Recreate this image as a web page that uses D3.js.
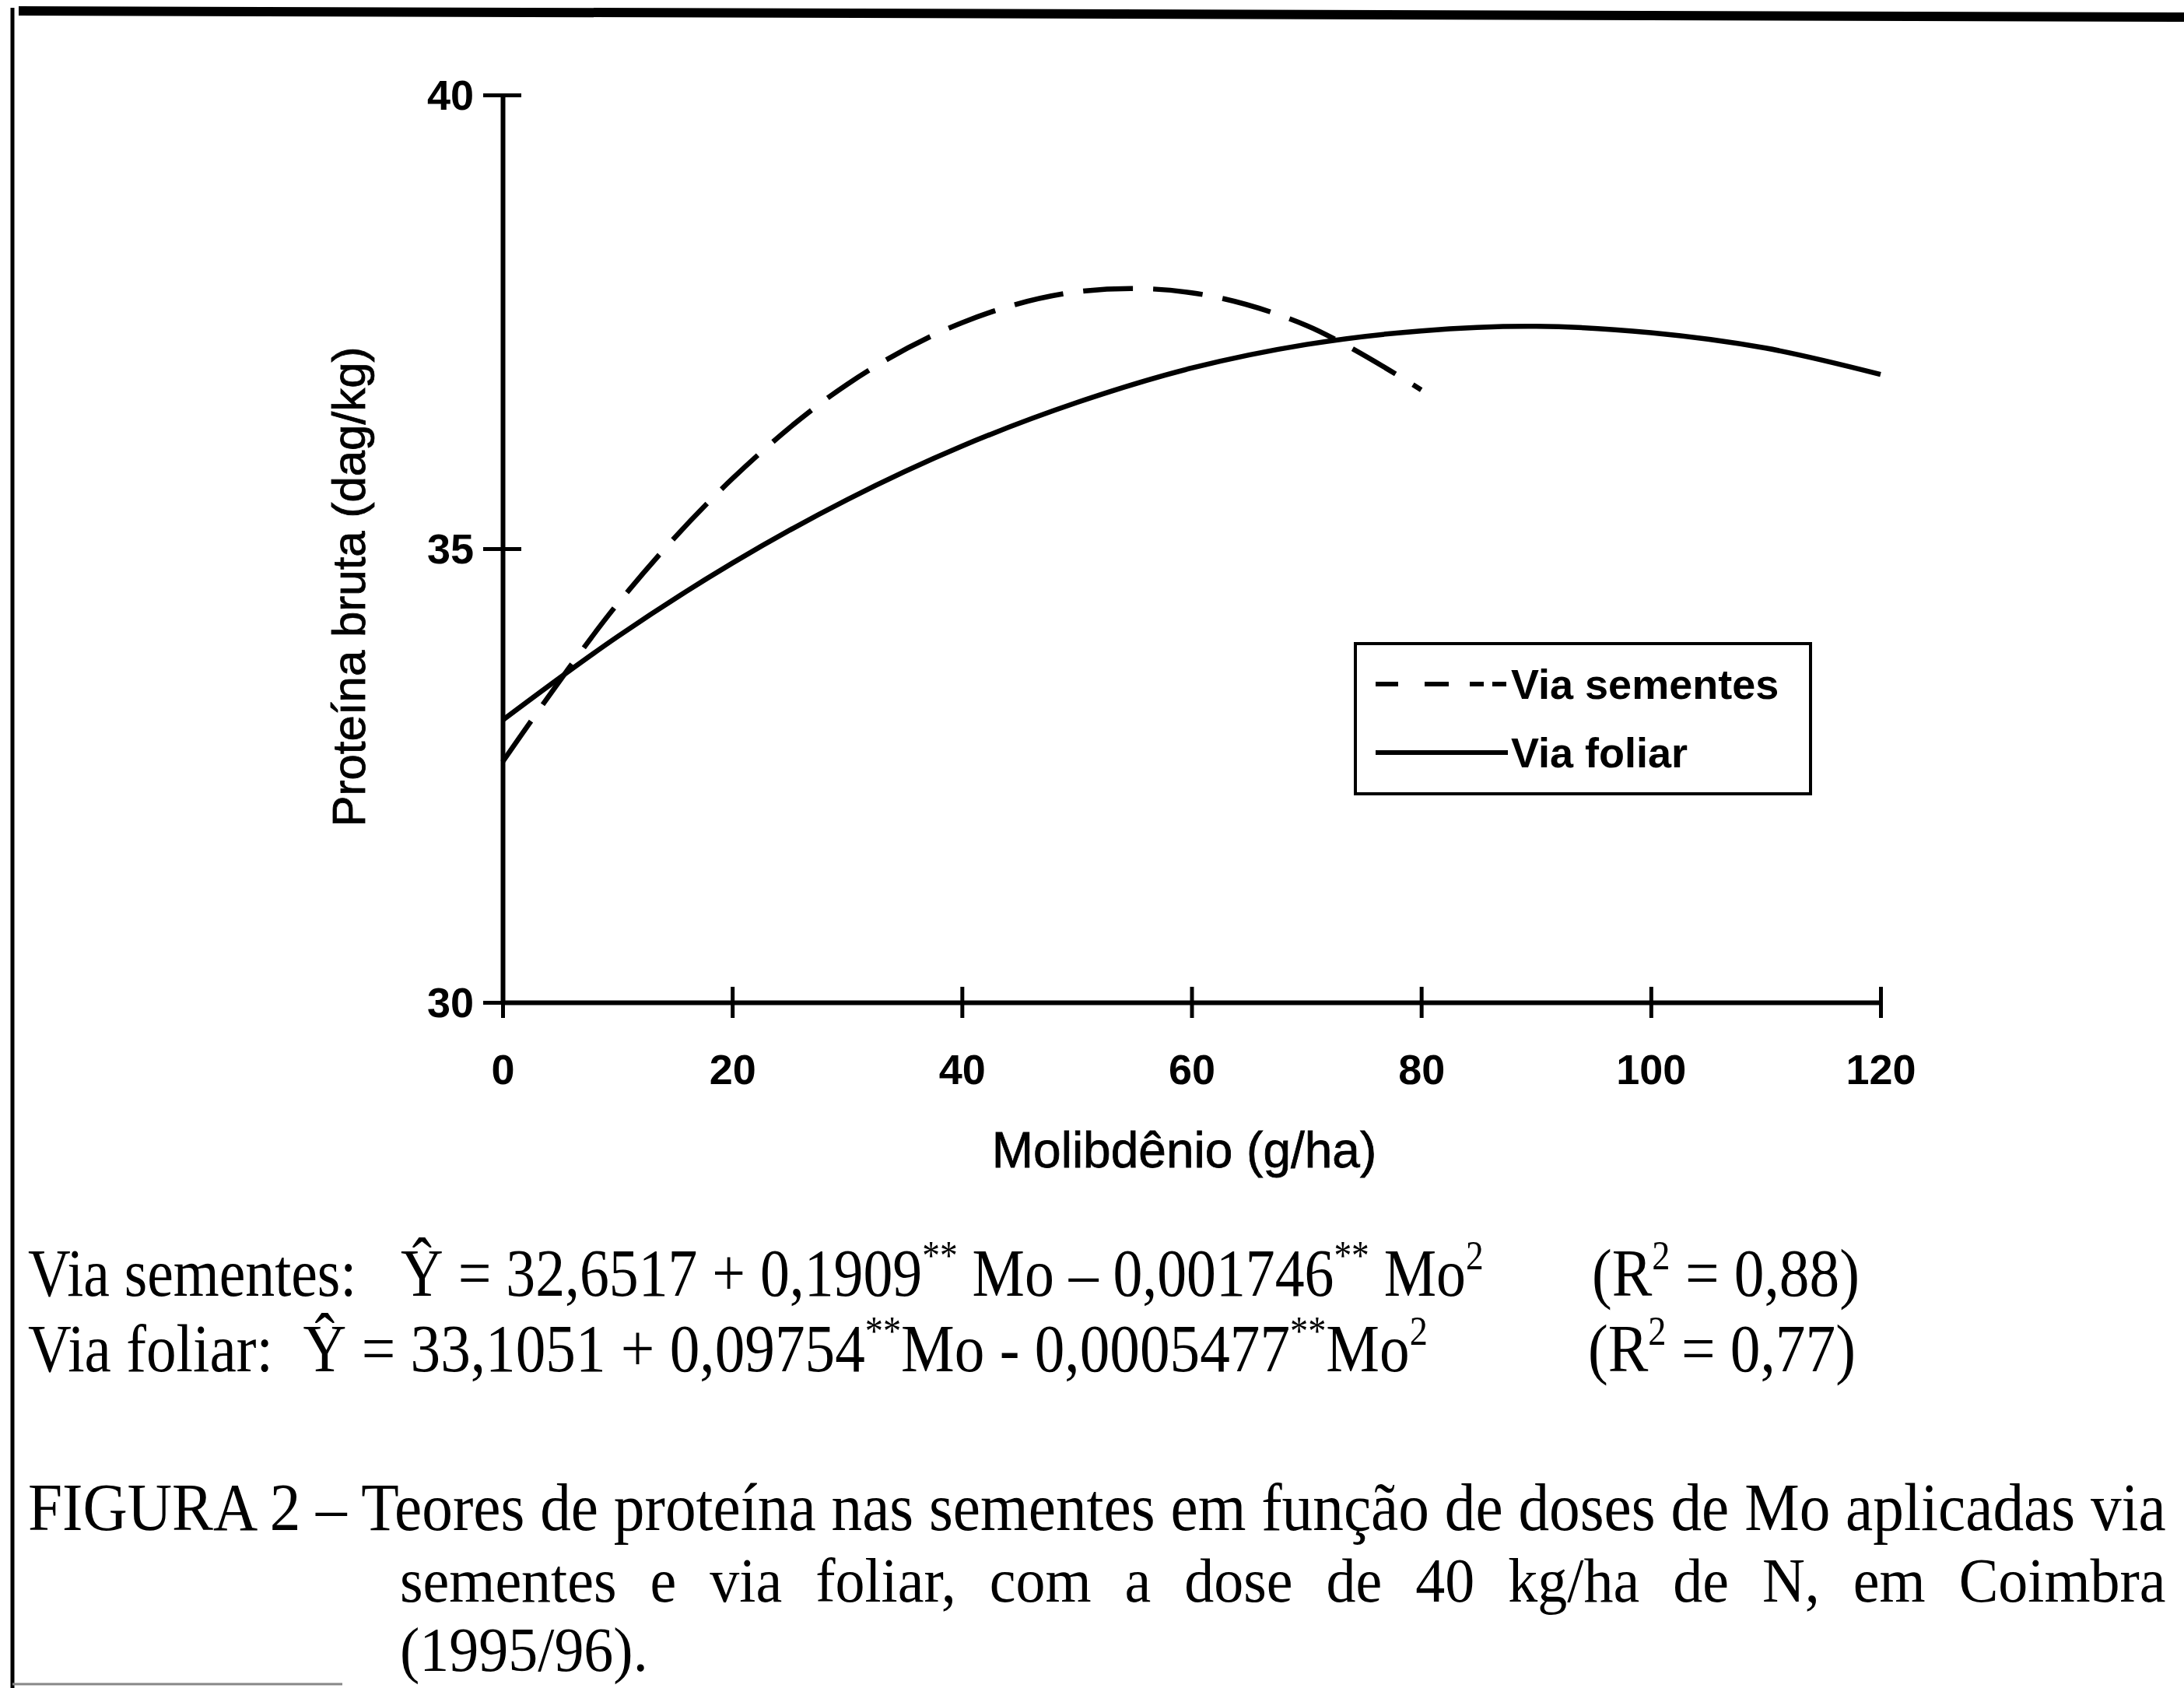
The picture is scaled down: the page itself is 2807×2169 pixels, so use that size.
<!DOCTYPE html>
<html>
<head>
<meta charset="utf-8">
<script src="https://cdn.jsdelivr.net/npm/d3@7"></script>
<style>
  body { margin: 0; background: #fff; }
  svg { display: block; }
</style>
</head>
<body>
<div id="chart-area"></div>
<script>
// data
var semDoses = [0, 10, 20, 30, 40, 50, 60, 70, 80];
var semValues = [32.65, 34.39, 35.77, 36.81, 37.49, 37.83, 37.82, 37.46, 36.75];
var folDoses = [0, 10, 20, 30, 40, 50, 60, 70, 80, 90, 100, 110, 120];
var folValues = [33.11, 34.03, 34.84, 35.54, 36.13, 36.61, 36.99, 37.25, 37.40, 37.45, 37.38, 37.21, 36.92];
var xTicks = [0, 20, 40, 60, 80, 100, 120];
var yTicks = [30, 35, 40];
var seriesNames = ["Via sementes", "Via foliar"];

var W = 2807, H = 2169;
var sans = "Arial, 'Liberation Sans', sans-serif";
var serif = "'Times New Roman', 'Liberation Serif', serif";
var nb = "\u00a0";

var svg = d3.select("#chart-area")
  .append("svg")
  .attr("width", W)
  .attr("height", H);

svg.append("rect").attr("width", W).attr("height", H).attr("fill", "#fff");

// page border (scan frame)
svg.append("line").attr("x1", 24).attr("y1", 14).attr("x2", W).attr("y2", 22)
  .attr("stroke", "#000").attr("stroke-width", 12);
svg.append("line").attr("x1", 16).attr("y1", 10).attr("x2", 16).attr("y2", H)
  .attr("stroke", "#000").attr("stroke-width", 5);
svg.append("line").attr("x1", 16).attr("y1", 2164).attr("x2", 440).attr("y2", 2164)
  .attr("stroke", "#888").attr("stroke-width", 3);

// scales
var x = d3.scaleLinear().domain([0, 120]).range([646, 2417]);
var y = d3.scaleLinear().domain([30, 40]).range([1288, 122]);

// axes
var yAxisGroup = svg.append("g")
  .attr("transform", "translate(" + x(0) + ",0)")
  .call(d3.axisLeft(y).tickValues(yTicks).tickSize(25).tickSizeOuter(0).tickFormat(d3.format("d")));

yAxisGroup.selectAll(".tick line").attr("x1", 24);
yAxisGroup.selectAll(".tick text")
  .attr("x", -37)
  .attr("dy", "0.35em")
  .attr("font-family", sans)
  .attr("font-weight", "bold")
  .attr("font-size", "54px");

var xAxisGroup = svg.append("g")
  .attr("transform", "translate(0," + y(30) + ")")
  .call(d3.axisBottom(x).tickValues(xTicks).tickSize(20).tickSizeOuter(0));

xAxisGroup.selectAll(".tick line").attr("y1", -20);
xAxisGroup.selectAll(".tick text")
  .attr("y", 67)
  .attr("dy", "0.71em")
  .attr("font-family", sans)
  .attr("font-weight", "bold")
  .attr("font-size", "54px");

svg.selectAll(".domain").attr("stroke-width", 6);
svg.selectAll(".tick line").attr("stroke-width", 5);
svg.selectAll(".tick text").attr("fill", "#000");

// axis titles
svg.append("text")
  .attr("transform", "translate(469,754) rotate(-90)")
  .attr("text-anchor", "middle")
  .attr("font-family", sans)
  .attr("font-size", "60px")
  .attr("stroke", "#000").attr("stroke-width", 0.8)
  .text("Proteína bruta (dag/kg)");

svg.append("text")
  .attr("x", 1522)
  .attr("y", 1500)
  .attr("text-anchor", "middle")
  .attr("font-family", sans)
  .attr("font-size", "64px")
  .attr("stroke", "#000").attr("stroke-width", 0.8)
  .text("Molibdênio (g/ha)");

// curves
var line = d3.line()
  .x(function(d) { return x(d[0]); })
  .y(function(d) { return y(d[1]); })
  .curve(d3.curveCatmullRom.alpha(0.5));

svg.append("path")
  .datum(d3.zip(semDoses, semValues))
  .attr("d", line)
  .attr("fill", "none")
  .attr("stroke", "#000")
  .attr("stroke-width", 6.5)
  .attr("stroke-dasharray", "64,26");

svg.append("path")
  .datum(d3.zip(folDoses, folValues))
  .attr("d", line)
  .attr("fill", "none")
  .attr("stroke", "#000")
  .attr("stroke-width", 6.5);

// legend
var legend = svg.append("g");
legend.append("rect")
  .attr("x", 1742).attr("y", 827)
  .attr("width", 585).attr("height", 193)
  .attr("fill", "#fff").attr("stroke", "#000").attr("stroke-width", 4);

var legendRows = [
  { name: seriesNames[0], dash: "29,34,31,27,18,11,18", y: 879 },
  { name: seriesNames[1], dash: null, y: 967 }
];

legendRows.forEach(function(r) {
  legend.append("line")
    .attr("x1", 1768).attr("x2", 1938)
    .attr("y1", r.y).attr("y2", r.y)
    .attr("stroke", "#000").attr("stroke-width", 6)
    .attr("stroke-dasharray", r.dash);
  legend.append("text")
    .attr("x", 1942).attr("y", r.y + 19)
    .attr("font-family", sans)
    .attr("font-weight", "bold")
    .attr("font-size", "54px")
    .text(r.name);
});

// equations and caption (serif text, fitted to widths)
function serifLine(parts, x0, y0, targetW, size, sy) {
  var t = svg.append("text")
    .attr("font-family", serif)
    .attr("font-size", size + "px")
    .attr("fill", "#000");
  parts.forEach(function(p) {
    if (p.sup) {
      t.append("tspan")
        .attr("font-size", (size * 0.6) + "px")
        .attr("baseline-shift", "65%")
        .text(p.sup);
    } else {
      t.append("tspan").text(p.t);
    }
  });
  var w = t.node().getBBox().width;
  var sx = targetW ? targetW / w : 1;
  t.attr("transform", "translate(" + x0 + "," + y0 + ") scale(" + sx + "," + sy + ")");
  return t;
}

serifLine([
  { t: "Via sementes:" + nb + nb + nb + "Ŷ = 32,6517 + 0,1909" }, { sup: "**" },
  { t: nb + "Mo – 0,001746" }, { sup: "**" }, { t: nb + "Mo" }, { sup: "2" }
], 36, 1665, 1871, 77, 1.12);
serifLine([{ t: "(R" }, { sup: "2" }, { t: " = 0,88)" }], 2046, 1665, 344, 77, 1.12);

serifLine([
  { t: "Via foliar:" + nb + nb + "Ŷ = 33,1051 + 0,09754" }, { sup: "**" },
  { t: "Mo - 0,0005477" }, { sup: "**" }, { t: "Mo" }, { sup: "2" }
], 36, 1762, 1799, 77, 1.12);
serifLine([{ t: "(R" }, { sup: "2" }, { t: " = 0,77)" }], 2041, 1762, 344, 77, 1.12);

var captionLines = [
  "FIGURA 2 – Teores de proteína nas sementes em função de doses de Mo aplicadas via",
  "sementes e via foliar, com a dose de 40 kg/ha de N, em Coimbra",
  "(1995/96)."
];

serifLine([{ t: captionLines[0] }], 36, 1966, 2748, 78, 1.1);

// justified second line: spread word spacing
var c2 = svg.append("text")
  .attr("font-family", serif)
  .attr("font-size", "76px")
  .text(captionLines[1]);
var w2 = c2.node().getBBox().width;
var nSp = captionLines[1].split(" ").length - 1;
c2.attr("word-spacing", ((2270 - w2) / nSp) + "px")
  .attr("transform", "translate(514,2058) scale(1,1.05)");

svg.append("text")
  .attr("font-family", serif)
  .attr("font-size", "76px")
  .attr("transform", "translate(514,2147) scale(1,1.05)")
  .text(captionLines[2]);
</script>
</body>
</html>
